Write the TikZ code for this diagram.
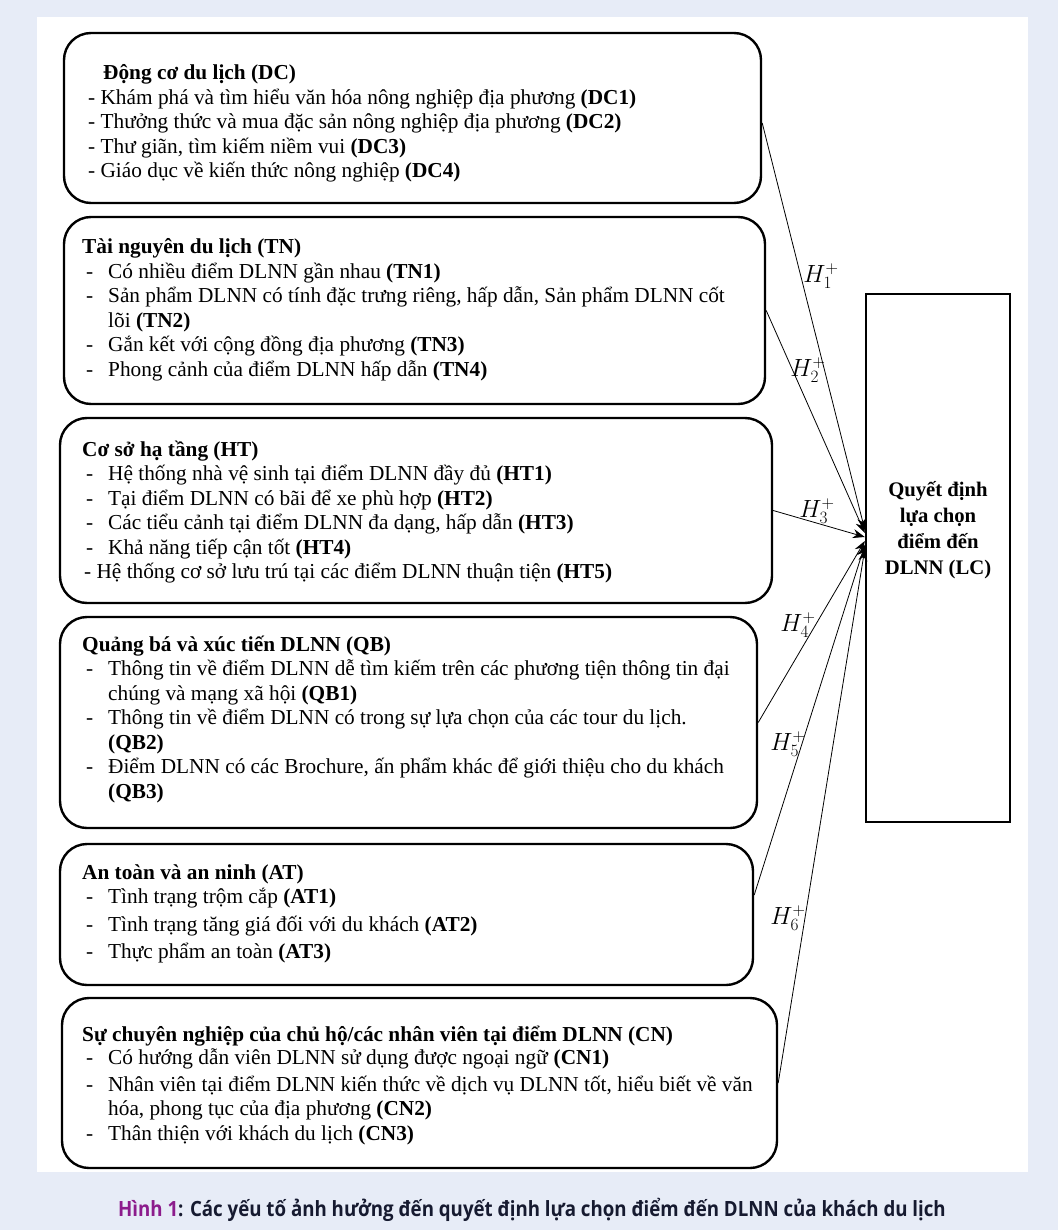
\documentclass[tikz,border=0pt]{standalone}
\usepackage{fontspec}
\setmainfont{Liberation Serif}
\newfontfamily\capfont[FakeStretch=0.89]{Open Sans}
\usetikzlibrary{arrows.meta,calc}
\definecolor{bgc}{RGB}{231,236,247}
\definecolor{hinh}{RGB}{140,28,140}
\definecolor{capc}{RGB}{22,26,48}
\newcommand\itm{\hspace*{4pt}\makebox[22pt][l]{-}}
\newcommand\cnt{\hspace*{26pt}}
\newcommand\pb[1]{\parbox[t]{720pt}{\raggedright #1}}
\begin{document}
\begin{tikzpicture}[x=1pt,y=-1pt,
  fbox/.style={draw,line width=2.4pt,rounded corners=27pt,inner sep=0pt},
  lcbox/.style={draw,line width=2.4pt,inner sep=0pt},
  txt/.style={anchor=base west,inner sep=0pt,font=\fontsize{21.3}{24.5}\selectfont},
  hyp/.style={-{Stealth[length=12pt,width=9pt]},line width=0.8pt},
  hl/.style={font=\fontsize{23}{23}\selectfont,inner sep=0pt}
]
\fill[bgc] (0,0) rectangle (1058,1230);
\useasboundingbox (0,0) rectangle (1058,1230);
\fill[white] (37,17) rectangle (1028,1172);

% boxes
\node[fbox,minimum width=697pt,minimum height=170pt] (DC) at (412.5,118) {};
\node[fbox,minimum width=701pt,minimum height=187pt] (TN) at (414.5,310.5) {};
\node[fbox,minimum width=712pt,minimum height=185pt] (HT) at (416,510.5) {};
\node[fbox,minimum width=697pt,minimum height=211pt] (QB) at (408.5,722.5) {};
\node[fbox,minimum width=693pt,minimum height=141pt] (AT) at (406.5,914.5) {};
\node[fbox,minimum width=715pt,minimum height=170pt] (CN) at (419.5,1083) {};
\node[lcbox,minimum width=144pt,minimum height=528pt] (LC) at (938,558) {};

% texts
\node[txt] (tDC) at (88,80) {\pb{%
\hspace*{15pt}\textbf{Động cơ du lịch (DC)}\\
- Khám phá và tìm hiểu văn hóa nông nghiệp địa phương \textbf{(DC1)}\\
- Thưởng thức và mua đặc sản nông nghiệp địa phương \textbf{(DC2)}\\
- Thư giãn, tìm kiếm niềm vui \textbf{(DC3)}\\
- Giáo dục về kiến thức nông nghiệp \textbf{(DC4)}}};

\node[txt] (tTN) at (82,254) {\pb{%
\textbf{Tài nguyên du lịch (TN)}\\
\itm Có nhiều điểm DLNN gần nhau \textbf{(TN1)}\\
\itm Sản phẩm DLNN có tính đặc trưng riêng, hấp dẫn, Sản phẩm DLNN cốt\\
\cnt lõi \textbf{(TN2)}\\
\itm Gắn kết với cộng đồng địa phương \textbf{(TN3)}\\
\itm Phong cảnh của điểm DLNN hấp dẫn \textbf{(TN4)}}};

\node[txt] (tHT) at (82,456) {\pb{%
\textbf{Cơ sở hạ tầng (HT)}\\
\itm Hệ thống nhà vệ sinh tại điểm DLNN đầy đủ \textbf{(HT1)}\\
\itm Tại điểm DLNN có bãi để xe phù hợp \textbf{(HT2)}\\
\itm Các tiểu cảnh tại điểm DLNN đa dạng, hấp dẫn \textbf{(HT3)}\\
\itm Khả năng tiếp cận tốt \textbf{(HT4)}\\
\hspace*{2pt}- Hệ thống cơ sở lưu trú tại các điểm DLNN thuận tiện \textbf{(HT5)}}};

\node[txt] (tQB) at (82,651) {\pb{%
\textbf{Quảng bá và xúc tiến DLNN (QB)}\\
\itm Thông tin về điểm DLNN dễ tìm kiếm trên các phương tiện thông tin đại\\
\cnt chúng và mạng xã hội \textbf{(QB1)}\\
\itm Thông tin về điểm DLNN có trong sự lựa chọn của các tour du lịch.\\
\cnt\textbf{(QB2)}\\
\itm Điểm DLNN có các Brochure, ấn phẩm khác để giới thiệu cho du khách\\
\cnt\textbf{(QB3)}}};

\node[txt] (tAT) at (82,879) {\pb{%
\textbf{An toàn và an ninh (AT)}\\
\itm Tình trạng trộm cắp \textbf{(AT1)}\\[3pt]
\itm Tình trạng tăng giá đối với du khách \textbf{(AT2)}\\[2.5pt]
\itm Thực phẩm an toàn \textbf{(AT3)}}};

\node[txt] (tCN) at (82,1041) {\pb{%
\textbf{Sự chuyên nghiệp của chủ hộ/các nhân viên tại điểm DLNN (CN)}\\[-1.5pt]
\itm Có hướng dẫn viên DLNN sử dụng được ngoại ngữ \textbf{(CN1)}\\[2.5pt]
\itm Nhân viên tại điểm DLNN kiến thức về dịch vụ DLNN tốt, hiểu biết về văn\\
\cnt hóa, phong tục của địa phương \textbf{(CN2)}\\
\itm Thân thiện với khách du lịch \textbf{(CN3)}}};

\node[inner sep=0pt,align=center,font=\bfseries\fontsize{20.7}{26}\selectfont] (tLC) at (938,530) {Quyết định\\lựa chọn\\điểm đến\\DLNN (LC)};

% hypotheses
\draw[hyp] ([yshift=-5pt]DC.east) -- ($(LC.west)+(0,-28)$);
\draw[hyp] (TN.east) -- ($(LC.west)+(0,-25)$);
\draw[hyp] (HT.east) -- ($(LC.west)+(0,-21)$);
\draw[hyp] (QB.east) -- ($(LC.west)+(0,-17)$);
\draw[hyp] ([yshift=19.5pt]AT.east) -- ($(LC.west)+(0,-13)$);
\draw[hyp] (CN.east) -- ($(LC.west)+(0,-9)$);

\node[hl] (h1) at (821,276) {$H_1^+$};
\node[hl] (h2) at (808,370) {$H_2^+$};
\node[hl] (h3) at (817,511) {$H_3^+$};
\node[hl] (h4) at (798,625) {$H_4^+$};
\node[hl] (h5) at (788,744) {$H_5^+$};
\node[hl] (h6) at (788,918) {$H_6^+$};

% caption
\node[inner sep=0pt,font=\capfont\bfseries\fontsize{21}{21}\selectfont] (cap) at (532,1210) {\textcolor{hinh}{Hình 1}\textcolor{capc}{: Các yếu tố ảnh hưởng đến quyết định lựa chọn điểm đến DLNN của khách du lịch}};
\end{tikzpicture}
\end{document}
